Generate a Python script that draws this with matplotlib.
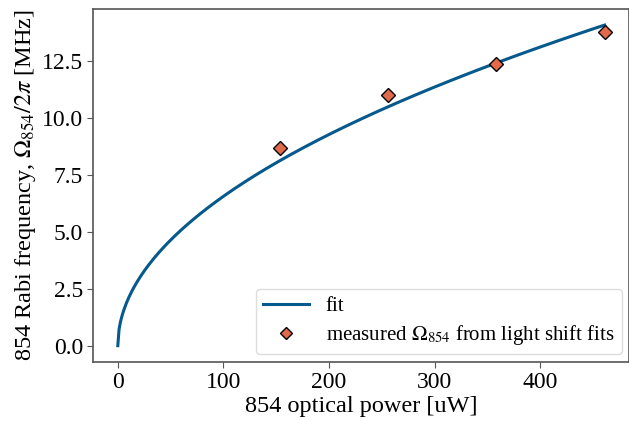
"""Rabi frequency of the 854 beam versus optical power, with sqrt fit."""

import matplotlib

matplotlib.use("Agg")
import matplotlib.pyplot as plt
import numpy as np

# measured points
power_uw = np.array([154.0, 256.0, 358.0, 461.0])
rabi_mhz = np.array([8.69, 11.03, 12.37, 13.78])

LINE_COLOR = "#05598c"
POINT_COLOR = "#e2694c"
SPINE_COLOR = "#555555"

plt.rcParams["font.family"] = ["Liberation Serif", "DejaVu Serif"]
plt.rcParams["mathtext.fontset"] = "stix"

# fit Omega^2 = k * P (Rabi frequency goes as sqrt of power)
k = np.sum(rabi_mhz**2 * power_uw) / np.sum(power_uw**2)
fit_power = np.linspace(0.0, power_uw.max(), 400)
fit_rabi = np.sqrt(k * fit_power)

figure = plt.figure(figsize=(6.29, 4.21), dpi=100)
ax = figure.add_axes([0.1486, 0.1409, 0.8514, 0.8377])

ax.plot(fit_power, fit_rabi, color=LINE_COLOR, linewidth=2.2, label="fit")
ax.plot(
    power_uw,
    rabi_mhz,
    linestyle="none",
    marker="D",
    markersize=7,
    markerfacecolor=POINT_COLOR,
    markeredgecolor="black",
    markeredgewidth=1.0,
    label=r"measured $\Omega_{854}$ from light shift fits",
)

ax.set_xlabel("854 optical power [uW]", fontsize=17.5, labelpad=2)
ax.set_ylabel(r"854 Rabi frequency, $\Omega_{854}/2\pi$ [MHz]", fontsize=17.5, labelpad=3)
ax.set_xticks([0, 100, 200, 300, 400])
ax.set_yticks([0.0, 2.5, 5.0, 7.5, 10.0, 12.5])
ax.tick_params(labelsize=17, color=SPINE_COLOR, length=4)
for spine in ax.spines.values():
    spine.set_color(SPINE_COLOR)
    spine.set_linewidth(1.2)

legend = ax.legend(
    loc="lower right",
    fontsize=15,
    framealpha=1.0,
    handlelength=2.2,
    markerscale=0.85,
    borderaxespad=0.35,
    borderpad=0.35,
    labelspacing=0.35,
)
legend.get_frame().set_edgecolor("#dddddd")

figure.savefig("out.png", dpi=100)
